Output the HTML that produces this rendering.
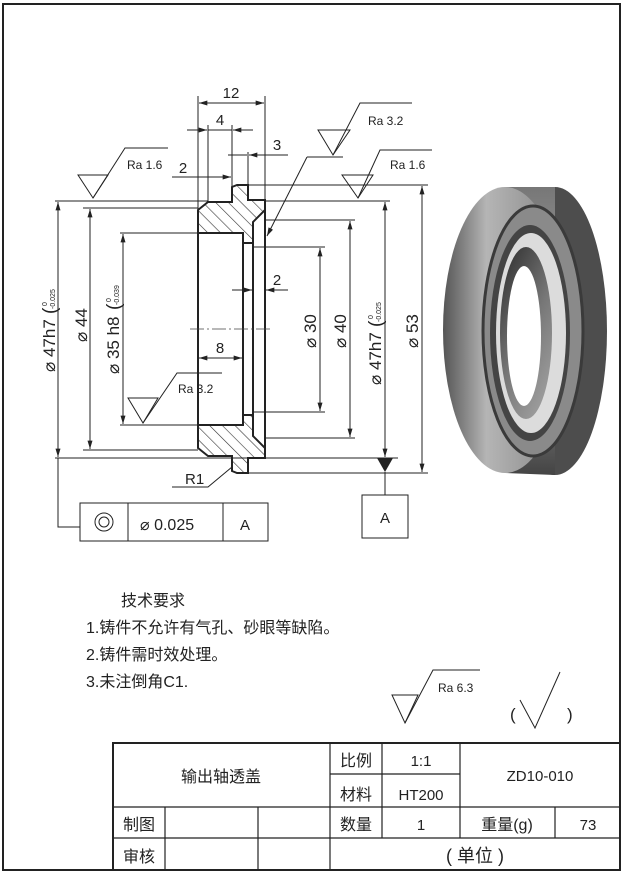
<!DOCTYPE html>
<html><head><meta charset="utf-8"><style>
html,body{margin:0;padding:0;background:#fff;}
svg{display:block;}
text{font-family:"Liberation Sans","Noto Sans CJK SC",sans-serif;fill:#222;}
</style></head><body>
<svg width="625" height="872" viewBox="0 0 625 872" xmlns="http://www.w3.org/2000/svg">
<defs>
<pattern id="h" patternUnits="userSpaceOnUse" width="9" height="9" patternTransform="rotate(-45)">
<rect width="9" height="9" fill="#fff"/><line x1="0" y1="0" x2="0" y2="9" stroke="#333" stroke-width="1.2"/>
</pattern>
<marker id="a" viewBox="0 0 10 6" refX="10" refY="3" markerWidth="9" markerHeight="5" orient="auto-start-reverse" markerUnits="userSpaceOnUse">
<path d="M0,0 L10,3 L0,6 z" fill="#222"/></marker>
<linearGradient id="g1" x1="0" y1="0" x2="1" y2="0"><stop offset="0" stop-color="#555"/><stop offset="0.35" stop-color="#b5b5b5"/><stop offset="0.7" stop-color="#9a9a9a"/><stop offset="1" stop-color="#6a6a6a"/></linearGradient>
<linearGradient id="g3" x1="0" y1="0" x2="0" y2="1"><stop offset="0" stop-color="#777"/><stop offset="0.5" stop-color="#aaa"/><stop offset="1" stop-color="#444"/></linearGradient>
<linearGradient id="g4" x1="0" y1="0" x2="0.6" y2="1"><stop offset="0" stop-color="#2a2a2a"/><stop offset="0.6" stop-color="#777"/><stop offset="1" stop-color="#999"/></linearGradient>
</defs>
<rect x="3" y="4" width="617" height="866" fill="none" stroke="#222" stroke-width="2"/>

<g stroke="#222" stroke-width="2" fill="url(#h)">
<path d="M198,210 L208,202 L232,202 L232,187 L237,185 L248,185 L248,200 L265,200 L265,210 L253,222 L253,243 L243,243 L243,233 L198,233 Z"/>
<path d="M198,448 L208,456 L232,456 L232,471 L237,473 L248,473 L248,458 L265,458 L265,448 L253,436 L253,415 L243,415 L243,425 L198,425 Z"/>
</g>
<g stroke="#222" stroke-width="2" fill="none">
<line x1="198" y1="233" x2="198" y2="425"/>
<line x1="243" y1="233" x2="243" y2="425"/>
<line x1="253" y1="222" x2="253" y2="436"/>
<line x1="265" y1="210" x2="265" y2="448"/>
<line x1="243" y1="243" x2="253" y2="243"/>
<line x1="243" y1="415" x2="253" y2="415"/>
</g>
<line x1="190" y1="329" x2="273" y2="329" stroke="#444" stroke-width="0.8" stroke-dasharray="14,3,2,3"/>

<g stroke="#222" stroke-width="1" fill="none">
<line x1="198" y1="96" x2="198" y2="210"/><line x1="265" y1="96" x2="265" y2="200"/>
<line x1="199" y1="103" x2="264" y2="103" marker-start="url(#a)" marker-end="url(#a)"/>
<line x1="208" y1="125" x2="208" y2="202"/><line x1="232" y1="125" x2="232" y2="187"/>
<line x1="187" y1="130" x2="207" y2="130" marker-end="url(#a)"/>
<line x1="253" y1="130" x2="233" y2="130" marker-end="url(#a)"/>
<line x1="208" y1="130" x2="232" y2="130"/>
<line x1="248" y1="152" x2="248" y2="185"/>
<line x1="228" y1="155" x2="247" y2="155"/>
<line x1="288" y1="155" x2="249" y2="155" marker-end="url(#a)"/>
<line x1="172" y1="177" x2="231" y2="177" marker-end="url(#a)"/>
<path d="M78,175 L108,175 L93,198 Z"/><path d="M93,198 L125,148 L168,148"/>
<line x1="55" y1="201" x2="208" y2="201"/>
<line x1="58" y1="202" x2="58" y2="457" marker-start="url(#a)" marker-end="url(#a)"/>
<line x1="55" y1="458" x2="398" y2="458"/>
<line x1="83" y1="208" x2="198" y2="208"/><line x1="83" y1="450" x2="198" y2="450"/>
<line x1="90" y1="209" x2="90" y2="449" marker-start="url(#a)" marker-end="url(#a)"/>
<line x1="120" y1="233" x2="198" y2="233"/><line x1="120" y1="425" x2="198" y2="425"/>
<line x1="123" y1="234" x2="123" y2="424" marker-start="url(#a)" marker-end="url(#a)"/>
<path d="M128,398 L158,398 L143,423 Z"/><path d="M143,423 L177,373 L222,373"/>
<line x1="199" y1="358" x2="242" y2="358" marker-start="url(#a)" marker-end="url(#a)"/>
<line x1="232" y1="290" x2="252" y2="290" marker-end="url(#a)"/>
<line x1="288" y1="290" x2="266" y2="290" marker-end="url(#a)"/>
<line x1="253" y1="247" x2="325" y2="247"/><line x1="253" y1="412" x2="325" y2="412"/>
<line x1="320" y1="248" x2="320" y2="411" marker-start="url(#a)" marker-end="url(#a)"/>
<line x1="265" y1="220" x2="355" y2="220"/><line x1="265" y1="438" x2="355" y2="438"/>
<line x1="350" y1="221" x2="350" y2="437" marker-start="url(#a)" marker-end="url(#a)"/>
<line x1="265" y1="201" x2="390" y2="201"/>
<line x1="385" y1="202" x2="385" y2="457" marker-start="url(#a)" marker-end="url(#a)"/>
<line x1="248" y1="185" x2="428" y2="185"/><line x1="248" y1="473" x2="428" y2="473"/>
<line x1="422" y1="186" x2="422" y2="472" marker-start="url(#a)" marker-end="url(#a)"/>
<path d="M342,175 L373,175 L358,198 Z"/><path d="M358,198 L380,150 L432,150"/>
<path d="M318,130 L350,130 L333,155 Z"/><path d="M333,155 L360,103 L412,103"/>
<line x1="343" y1="157" x2="307" y2="157"/>
<line x1="307" y1="157" x2="267" y2="236" marker-end="url(#a)"/>
<path d="M232,467 L208,487 L172,487"/>
<line x1="385" y1="472" x2="385" y2="495"/>
<rect x="362" y="495" width="46" height="43"/>
<path d="M58,458 L58,527 L80,527"/>
<rect x="80" y="503" width="188" height="38"/>
<line x1="128" y1="503" x2="128" y2="541"/><line x1="223" y1="503" x2="223" y2="541"/>
<circle cx="104" cy="522" r="9"/><circle cx="104" cy="522" r="5"/>
</g>
<path d="M377,458 L393,458 L385,472 Z" fill="#222"/>

<g font-size="15">
<text x="231" y="98" text-anchor="middle">12</text>
<text x="220" y="125" text-anchor="middle">4</text>
<text x="277" y="150" text-anchor="middle">3</text>
<text x="183" y="173" text-anchor="middle">2</text>
<text x="277" y="285" text-anchor="middle">2</text>
<text x="220" y="353" text-anchor="middle">8</text>
<text x="185" y="484">R1</text>
<text x="385" y="523" text-anchor="middle">A</text>
<text x="245" y="530" text-anchor="middle">A</text>
<text x="140" y="530" font-size="16">⌀ 0.025</text>
</g>
<g font-size="12">
<text x="127" y="169">Ra 1.6</text>
<text x="390" y="169">Ra 1.6</text>
<text x="368" y="125">Ra 3.2</text>
<text x="178" y="393">Ra 3.2</text>
</g>
<g font-size="17">
<g transform="translate(55,372) rotate(-90)"><text x="0" y="0">⌀ 47h7</text><text x="58" y="1" font-size="19">(</text><text x="66" y="-8" font-size="7">0</text><text x="63" y="0" font-size="7">-0.025</text></g>
<g transform="translate(87,342) rotate(-90)"><text>⌀ 44</text></g>
<g transform="translate(119,374) rotate(-90)"><text x="0" y="0">⌀ 35 h8</text><text x="64" y="1" font-size="19">(</text><text x="72" y="-8" font-size="7">0</text><text x="69" y="0" font-size="7">-0.039</text></g>
<g transform="translate(316,348) rotate(-90)"><text>⌀ 30</text></g>
<g transform="translate(346,348) rotate(-90)"><text>⌀ 40</text></g>
<g transform="translate(381,385) rotate(-90)"><text x="0" y="0">⌀ 47h7</text><text x="58" y="1" font-size="19">(</text><text x="66" y="-8" font-size="7">0</text><text x="63" y="0" font-size="7">-0.025</text></g>
<g transform="translate(418,348) rotate(-90)"><text>⌀ 53</text></g>
</g>

<!-- 3D ring -->
<ellipse cx="555" cy="331" rx="52" ry="144" fill="#4d4d4d"/>
<path d="M505,187 L555,187 L555,475 L505,473 Z" fill="url(#g3)"/>
<ellipse cx="505" cy="330" rx="62" ry="143" fill="url(#g1)"/>
<ellipse cx="533" cy="331" rx="50" ry="125" fill="#8a8a8a" stroke="#3a3a3a" stroke-width="3"/>
<ellipse cx="530" cy="333" rx="40" ry="108" fill="#444"/>
<ellipse cx="531" cy="333" rx="35" ry="100" fill="#dcdcdc"/>
<ellipse cx="526" cy="333" rx="26" ry="86" fill="url(#g4)"/>
<ellipse cx="524" cy="336" rx="17" ry="70" fill="#fff"/>

<g font-size="16">
<text x="121" y="606">技术要求</text>
<text x="86" y="633">1.铸件不允许有气孔、砂眼等缺陷。</text>
<text x="86" y="660">2.铸件需时效处理。</text>
<text x="86" y="687">3.未注倒角C1.</text>
</g>
<g stroke="#222" stroke-width="1" fill="none">
<path d="M392,695 L418,695 L405,723 Z"/><path d="M405,723 L433,670 L480,670"/>
<path d="M520,700 L535,728 L560,672"/>
</g>
<text x="438" y="692" font-size="12">Ra 6.3</text>
<text x="510" y="720" font-size="17">(</text>
<text x="567" y="720" font-size="17">)</text>

<g stroke="#222" stroke-width="2" fill="none">
<path d="M113,870 L113,743 L620,743"/>
</g>
<g stroke="#222" stroke-width="1.2" fill="none">
<line x1="113" y1="807" x2="620" y2="807"/>
<line x1="113" y1="838" x2="620" y2="838"/>
<line x1="330" y1="774" x2="460" y2="774"/>
<line x1="330" y1="743" x2="330" y2="870"/>
<line x1="382" y1="743" x2="382" y2="838"/>
<line x1="460" y1="743" x2="460" y2="838"/>
<line x1="165" y1="807" x2="165" y2="870"/>
<line x1="258" y1="807" x2="258" y2="870"/>
<line x1="555" y1="807" x2="555" y2="838"/>
</g>
<g font-size="16">
<text x="221" y="782" text-anchor="middle">输出轴透盖</text>
<text x="356" y="766" text-anchor="middle">比例</text>
<text x="421" y="766" text-anchor="middle" font-size="15">1:1</text>
<text x="356" y="800" text-anchor="middle">材料</text>
<text x="421" y="800" text-anchor="middle" font-size="15">HT200</text>
<text x="540" y="781" text-anchor="middle" font-size="15">ZD10-010</text>
<text x="139" y="830" text-anchor="middle">制图</text>
<text x="356" y="830" text-anchor="middle">数量</text>
<text x="421" y="830" text-anchor="middle" font-size="15">1</text>
<text x="507" y="830" text-anchor="middle">重量(g)</text>
<text x="588" y="830" text-anchor="middle" font-size="15">73</text>
<text x="139" y="862" text-anchor="middle">审核</text>
<text x="475" y="862" text-anchor="middle" font-size="18">( 单位 )</text>
</g>
</svg>
</body></html>
